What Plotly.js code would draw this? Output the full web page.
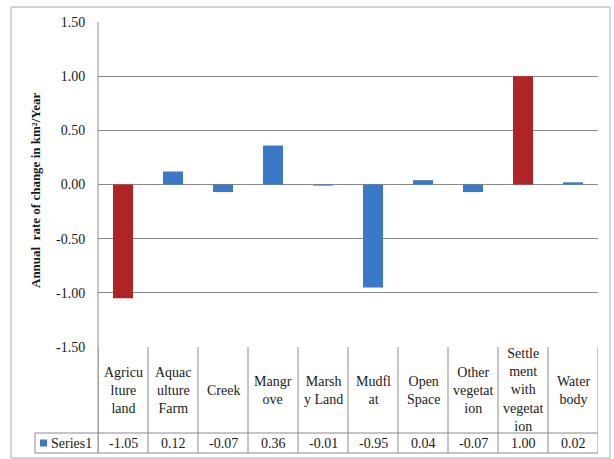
<!DOCTYPE html>
<html>
<head>
<meta charset="utf-8">
<script src="https://cdn.plot.ly/plotly-3.0.1.min.js"></script>
<style>
  html, body { margin: 0; padding: 0; background: #ffffff; }
  #chart { width: 614px; height: 459px; }
</style>
</head>
<body>
<div id="chart"></div>
<script>
// Land-cover classes, as wrapped in the data table cells
const categories = [
  "Agricu<br>lture<br>land",
  "Aquac<br>ulture<br>Farm",
  "Creek",
  "Mangr<br>ove",
  "Marsh<br>y Land",
  "Mudfl<br>at",
  "Open<br>Space",
  "Other<br>vegetat<br>ion",
  "Settle<br>ment<br>with<br>vegetat<br>ion",
  "Water<br>body"
];

// Annual rate of change (km²/year)
const series1 = [-1.05, 0.12, -0.07, 0.36, -0.01, -0.95, 0.04, -0.07, 1.00, 0.02];

// Highlighted classes are drawn in red, the rest in blue
const barColors = ["#B02426", "#3A78C8", "#3A78C8", "#3A78C8", "#3A78C8",
                   "#3A78C8", "#3A78C8", "#3A78C8", "#B02426", "#3A78C8"];

const seriesName = "Series1";
const yTicks = [-1.5, -1.0, -0.5, 0.0, 0.5, 1.0, 1.5];
const yTickText = yTicks.map(v => v.toFixed(2));

// ---- page geometry (pixels) ----
const W = 614, H = 459;
const M = { l: 98, r: 16, t: 22, b: 112 };
const plotW = W - M.l - M.r;
const plotH = H - M.t - M.b;
const plotBottom = H - M.b;          // top edge of the data table
const rowSplit = 433;                // line between names row and values row
const tableBottom = 453;
const keyLeft = 35;                  // left edge of the "Series1" cell

const px = p => (p - M.l) / plotW;           // pixel x -> paper x
const py = p => (plotBottom - p) / plotH;    // pixel y -> paper y

const FONT = "Liberation Serif, Times New Roman, serif";
const GRID = "#8a8a8a";

const idx = categories.map((_, i) => i);

const trace = {
  type: "bar",
  x: idx,
  y: series1,
  width: 0.4,
  marker: { color: barColors, line: { width: 0 } },
  hoverinfo: "skip",
  showlegend: false
};

const shapes = [];
const line = (xref, x0, x1, y0, y1, color) => shapes.push({
  type: "line", xref: xref, yref: "paper", x0: x0, x1: x1, y0: y0, y1: y1,
  line: { color: color || GRID, width: 1 }
});

// outer chart border
shapes.push({
  type: "rect", xref: "paper", yref: "paper",
  x0: px(11), x1: px(610), y0: py(7), y1: py(458),
  line: { color: "#a8a8a8", width: 1 }, fillcolor: "rgba(0,0,0,0)"
});

// value axis line running down through the table
line("paper", 0, 0, 1, py(tableBottom));
// column separators of the data table
for (let i = 0; i <= categories.length; i++) {
  line("x", i - 0.5, i - 0.5, 0, py(tableBottom));
}
// row lines of the data table
line("paper", px(keyLeft), 1, py(rowSplit), py(rowSplit));
line("paper", px(keyLeft), 1, py(tableBottom), py(tableBottom));
line("paper", px(keyLeft), px(keyLeft), py(rowSplit), py(tableBottom));

// legend key square in the table
shapes.push({
  type: "rect", xref: "paper", yref: "paper",
  x0: px(40), x1: px(47), y0: py(439.5), y1: py(446.5),
  line: { width: 0 }, fillcolor: "#3A78C8"
});

const annotations = [];
const tableFont = { family: FONT, size: 14, color: "#1a1a1a" };

categories.forEach((c, i) => {
  annotations.push({
    xref: "x", yref: "paper", x: i, y: py((plotBottom + rowSplit) / 2),
    text: c, showarrow: false, xanchor: "center", yanchor: "middle",
    align: "center", font: tableFont
  });
  annotations.push({
    xref: "x", yref: "paper", x: i, y: py((rowSplit + tableBottom) / 2),
    text: series1[i].toFixed(2), showarrow: false, xanchor: "center",
    yanchor: "middle", font: tableFont
  });
});

annotations.push({
  xref: "paper", yref: "paper", x: px(48.5), y: py((rowSplit + tableBottom) / 2),
  text: seriesName, showarrow: false, xanchor: "left", yanchor: "middle",
  font: tableFont
});

// value axis title
annotations.push({
  xref: "paper", yref: "paper", x: px(35), y: py(190),
  text: "<b>Annual  rate of change in km²/Year</b>", textangle: -90,
  showarrow: false, xanchor: "center", yanchor: "middle",
  font: { family: FONT, size: 13, color: "#1a1a1a" }
});

const layout = {
  width: W, height: H,
  margin: M,
  paper_bgcolor: "#ffffff",
  plot_bgcolor: "#ffffff",
  showlegend: false,
  bargap: 0.6,
  xaxis: {
    type: "linear",
    range: [-0.5, categories.length - 0.5],
    showticklabels: false, showgrid: false, zeroline: false,
    showline: false, ticks: ""
  },
  yaxis: {
    range: [-1.5, 1.5],
    tickmode: "array",
    tickvals: yTicks,
    ticktext: yTickText,
    showgrid: true, gridcolor: GRID, gridwidth: 1,
    zeroline: false, showline: false,
    ticks: "outside", ticklen: 9, tickcolor: "rgba(0,0,0,0)",
    tickfont: { family: FONT, size: 14, color: "#1a1a1a" }
  },
  shapes: shapes,
  annotations: annotations
};

Plotly.newPlot("chart", [trace], layout, { displayModeBar: false, staticPlot: true });
</script>
</body>
</html>
